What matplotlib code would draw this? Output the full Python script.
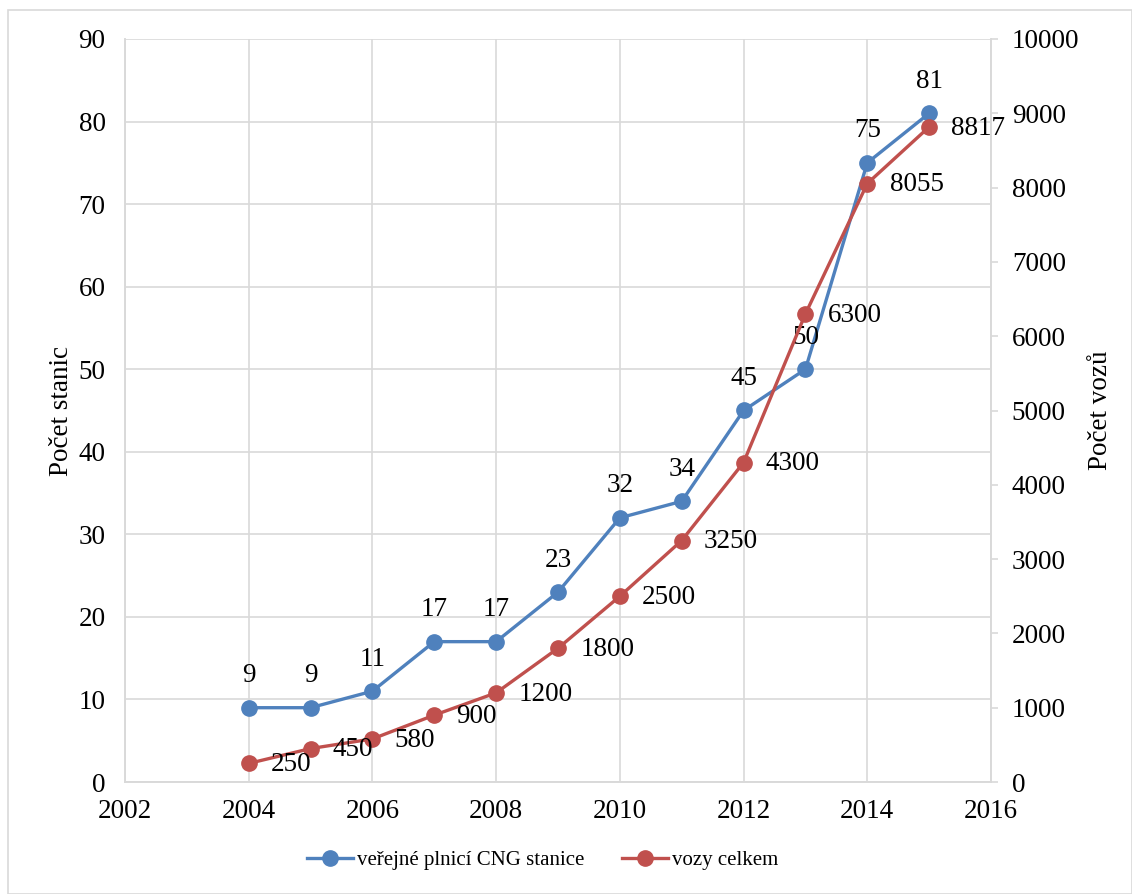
import matplotlib
matplotlib.use('Agg')
import matplotlib.pyplot as plt
from matplotlib.patches import Rectangle

plt.rcParams['font.family'] = ['Liberation Serif', 'DejaVu Serif']
plt.rcParams['font.size'] = 19.5

# CNG stanice a vozy v ČR
roky = [2004, 2005, 2006, 2007, 2008, 2009, 2010, 2011, 2012, 2013, 2014, 2015]
stanice = [9, 9, 11, 17, 17, 23, 32, 34, 45, 50, 75, 81]
vozy = [250, 450, 580, 900, 1200, 1800, 2500, 3250, 4300, 6300, 8055, 8817]

BLUE = '#4F81BD'
RED = '#C0504D'
GRID = '#D9D9D9'


def main():
    fig = plt.figure(figsize=(11.32, 8.94), dpi=100)
    ax = fig.add_axes([125 / 1132, 1 - 782 / 894, 866 / 1132, 743 / 894])
    ax2 = ax.twinx()

    # rámeček kolem celého grafu
    fig.patches.append(Rectangle((8 / 1132, 0), 1 - 8 / 1132, 1 - 10 / 894,
                                 transform=fig.transFigure, fill=False,
                                 edgecolor=GRID, linewidth=1.2))

    l1, = ax.plot(roky, stanice, color=BLUE, lw=2.4, marker='o', ms=11,
                  label='veřejné plnicí CNG stanice', zorder=3)
    l2, = ax2.plot(roky, vozy, color=RED, lw=2.4, marker='o', ms=11,
                   label='vozy celkem', zorder=3)

    for x, y in zip(roky, stanice):
        ax.annotate(str(y), (x, y), xytext=(0, 23), textcoords='offset points',
                    ha='center', va='center')
    for x, y in zip(roky, vozy):
        ax2.annotate(str(y), (x, y), xytext=(16, -1), textcoords='offset points',
                     ha='left', va='center')

    ax.set_xlim(2002, 2016)
    ax.set_xticks(range(2002, 2017, 2))
    ax.set_ylim(0, 90)
    ax.set_yticks(range(0, 91, 10))
    ax2.set_ylim(0, 10000)
    ax2.set_yticks(range(0, 10001, 1000))

    ax.grid(True, color=GRID, lw=1.2)
    ax.set_axisbelow(True)
    ax.tick_params(axis='y', length=0, pad=14)
    ax.tick_params(axis='x', length=0, pad=12)
    ax2.tick_params(axis='y', length=5, color=GRID, width=1.2, pad=10)

    for a in (ax, ax2):
        a.spines['top'].set_visible(False)
        for side in ('left', 'right', 'bottom'):
            a.spines[side].set_color(GRID)
            a.spines[side].set_linewidth(1.2)

    ax.set_ylabel('Počet stanic', labelpad=3)
    ax2.set_ylabel('Počet vozů', rotation=90, labelpad=6)

    fig.legend(handles=[l1, l2], loc='center',
               bbox_to_anchor=(0.5 - 23 / 1132, 1 - 860 / 894),
               ncol=2, frameon=False, fontsize=15, handlelength=2.2,
               columnspacing=1.8, handletextpad=0.2)

    fig.savefig('out.png', dpi=100)


if __name__ == '__main__':
    main()
